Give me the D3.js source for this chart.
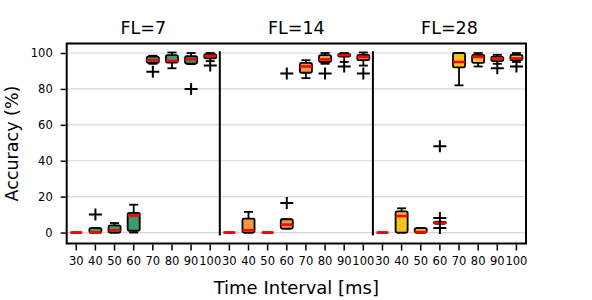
<!DOCTYPE html>
<html>
<head>
<meta charset="utf-8">
<script src="https://cdn.jsdelivr.net/npm/d3@7"></script>
<style>
  body { margin: 0; background: #fff; }
  text { font-family: "DejaVu Sans", sans-serif; fill: #000; }
</style>
</head>
<body>
<div id="chart"></div>
<script>
const intervals = ["30", "40", "50", "60", "70", "80", "90", "100"];
const groups = ["FL=7", "FL=14", "FL=28"];
const boxColors = ["#3a9b6c", "#f39a3c", "#f8c01c"];
const yTicks = [0, 20, 40, 60, 80, 100];

// [whisker low, q1, median, q3, whisker high] per interval
const stats7 = [
  [0, 0, 0, 0, 0],
  [0, 0, 0, 2.5, 2.5],
  [0, 0, 1.3, 4, 5.3],
  [0, 1, 9.5, 11, 15.5],
  [94, 94.5, 96, 98, 98.5],
  [91.5, 94.7, 95.6, 98.8, 100.3],
  [93.8, 94.1, 96.5, 98.2, 100],
  [95.5, 97, 98.4, 99.3, 100]
];
const fliers7 = [[], [10], [], [], [89.5], [], [80], [93]];

const stats14 = [
  [0, 0, 0, 0, 0],
  [0, 0, 1.3, 7.8, 11.5],
  [0, 0, 0, 0, 0],
  [2.2, 2.2, 4.4, 7.4, 7.4],
  [86, 89, 92.5, 94.5, 96],
  [94, 95, 96.4, 98.8, 100],
  [95, 98, 98.8, 99.5, 100],
  [93, 96, 97.8, 99, 100.3]
];
const fliers14 = [[], [], [], [16.5, 88.6], [], [88.6], [92.5], [88.6]];

const stats28 = [
  [0, 0, 0, 0, 0],
  [0, 0, 9.2, 11.8, 13.5],
  [0, 0, 0.3, 2.5, 2.5],
  [5, 5, 5.4, 6, 6],
  [82, 92, 95, 100, 100],
  [92.5, 94.5, 97.8, 99, 100],
  [94, 95.5, 96.9, 98, 99],
  [95, 96, 97, 99, 100]
];
const fliers28 = [[], [], [], [48, 8.1, 2.6], [], [], [91.5], [92.5]];

const allStats = [stats7, stats14, stats28];
const allFliers = [fliers7, fliers14, fliers28];

const width = 592, height = 300;
const margin = {top: 43.5, right: 66, bottom: 56.5, left: 66.7};

// one band per (group, interval) pair
const keys = groups.flatMap(g => intervals.map(t => g + "|" + t));
const x = d3.scaleBand(keys, [margin.left, width - margin.right]).padding(0);
const y = d3.scaleLinear([-6.1, 105.3], [height - margin.bottom, margin.top]);

const svg = d3.select("#chart").append("svg")
    .attr("width", width)
    .attr("height", height)
    .attr("viewBox", [0, 0, width, height]);

// grid
svg.append("g")
  .selectAll("line")
  .data(yTicks)
  .join("line")
    .attr("x1", margin.left)
    .attr("x2", width - margin.right)
    .attr("y1", d => y(d))
    .attr("y2", d => y(d))
    .attr("stroke", "#d6d6d6")
    .attr("stroke-width", 1.2);

// group separators
svg.append("g")
  .selectAll("line")
  .data([1, 2])
  .join("line")
    .attr("x1", i => x(keys[i * intervals.length]))
    .attr("x2", i => x(keys[i * intervals.length]))
    .attr("y1", y(101))
    .attr("y2", y(-1.6))
    .attr("stroke", "#000")
    .attr("stroke-width", 2);

const bw = x.bandwidth() * 0.63;
const cw = x.bandwidth() * 0.47;

const rows = [];
allStats.forEach((st, gi) => st.forEach((s, ti) => rows.push({
  key: groups[gi] + "|" + intervals[ti], s, fl: allFliers[gi][ti], color: boxColors[gi]
})));

const box = svg.append("g")
  .selectAll("g")
  .data(rows)
  .join("g")
    .attr("transform", d => `translate(${x(d.key) + x.bandwidth() / 2},0)`);

// whiskers
box.append("line")
    .attr("y1", d => y(d.s[0])).attr("y2", d => y(d.s[1]))
    .attr("stroke", "#000").attr("stroke-width", 1.8);
box.append("line")
    .attr("y1", d => y(d.s[3])).attr("y2", d => y(d.s[4]))
    .attr("stroke", "#000").attr("stroke-width", 1.8);
// caps
box.selectAll(".cap")
  .data(d => [d.s[0], d.s[4]])
  .join("line")
    .attr("class", "cap")
    .attr("x1", -cw / 2).attr("x2", cw / 2)
    .attr("y1", v => y(v)).attr("y2", v => y(v))
    .attr("stroke", "#000").attr("stroke-width", 1.8);
// boxes
box.append("rect")
    .attr("x", -bw / 2)
    .attr("width", bw)
    .attr("y", d => y(d.s[3]))
    .attr("height", d => y(d.s[1]) - y(d.s[3]))
    .attr("rx", 1.5)
    .attr("fill", d => d.color)
    .attr("stroke", "#000")
    .attr("stroke-width", 1.8);
// medians
box.append("line")
    .attr("x1", -bw / 2).attr("x2", bw / 2)
    .attr("y1", d => y(d.s[2])).attr("y2", d => y(d.s[2]))
    .attr("stroke", "#ff0000").attr("stroke-width", 2.6);
// fliers
box.selectAll(".flier")
  .data(d => d.fl)
  .join("path")
    .attr("class", "flier")
    .attr("d", v => `M-6.5,${y(v)}H6.5M0,${y(v) - 6}V${y(v) + 6}`)
    .attr("stroke", "#000").attr("stroke-width", 2)
    .attr("fill", "none");

// frame
svg.append("rect")
    .attr("x", margin.left)
    .attr("y", margin.top)
    .attr("width", width - margin.right - margin.left)
    .attr("height", height - margin.bottom - margin.top)
    .attr("fill", "none")
    .attr("stroke", "#000")
    .attr("stroke-width", 2);

// axes
svg.append("g")
    .attr("transform", `translate(${margin.left - 1},0)`)
    .call(d3.axisLeft(y).tickValues(yTicks).tickSize(5).tickPadding(8))
    .call(g => g.select(".domain").remove())
    .call(g => g.selectAll(".tick line").attr("stroke-width", 1.5))
    .call(g => g.selectAll(".tick text").attr("font-size", 11.5).attr("font-family", "DejaVu Sans"));

svg.append("g")
    .attr("transform", `translate(0,${height - margin.bottom + 1})`)
    .call(d3.axisBottom(x).tickSize(6).tickPadding(6).tickFormat(k => k.split("|")[1]))
    .call(g => g.select(".domain").remove())
    .call(g => g.selectAll(".tick line").attr("stroke-width", 1.5))
    .call(g => g.selectAll(".tick text").attr("font-size", 11.5).attr("font-family", "DejaVu Sans"));

// group titles
svg.append("g")
  .selectAll("text")
  .data(groups)
  .join("text")
    .attr("x", (g, i) => x(keys[i * intervals.length]) + x.bandwidth() * intervals.length / 2)
    .attr("y", 34.3)
    .attr("text-anchor", "middle")
    .attr("font-size", 17.5)
    .text(g => g);

svg.append("text")
    .attr("x", (margin.left + width - margin.right) / 2)
    .attr("y", 293.5)
    .attr("text-anchor", "middle")
    .attr("font-size", 18)
    .text("Time Interval [ms]");

svg.append("text")
    .attr("transform", `translate(18,${(margin.top + height - margin.bottom) / 2}) rotate(-90)`)
    .attr("text-anchor", "middle")
    .attr("font-size", 17.5)
    .text("Accuracy (%)");
</script>
</body>
</html>
